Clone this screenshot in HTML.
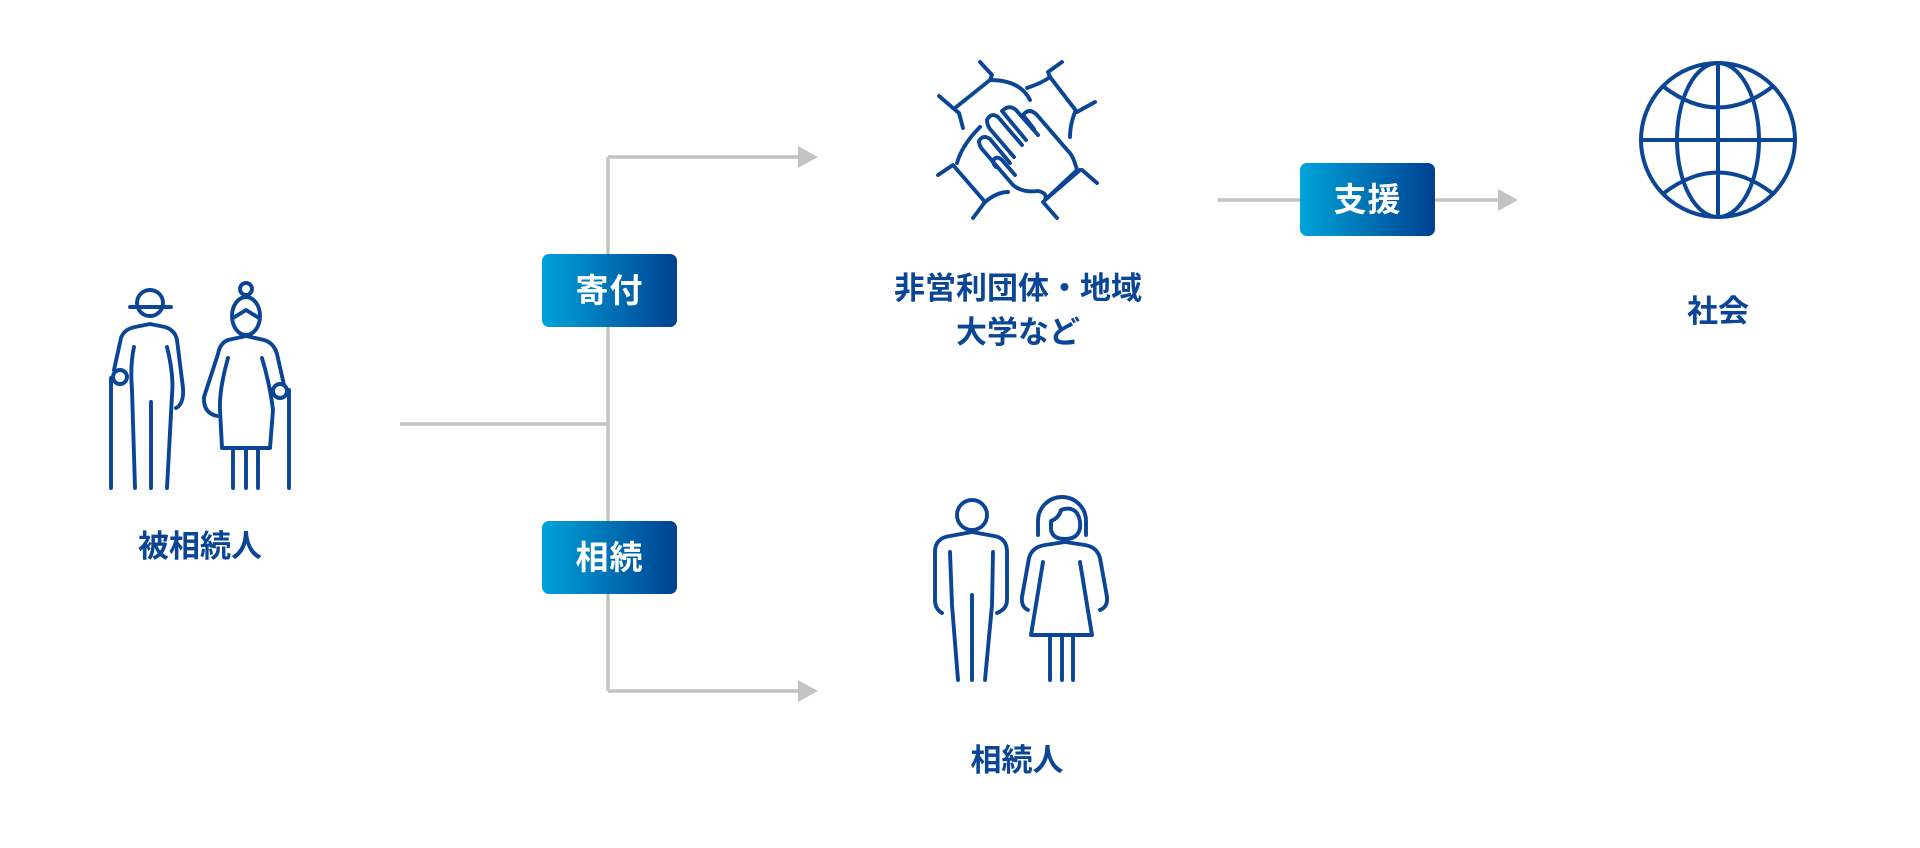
<!DOCTYPE html>
<html><head><meta charset="utf-8">
<style>
html,body{margin:0;padding:0;background:#fff;}
body{width:1920px;height:848px;position:relative;overflow:hidden;font-family:"Liberation Sans","Noto Sans CJK JP",sans-serif;}
.lbl{position:absolute;color:#0b4596;font-weight:bold;font-size:31px;line-height:44px;text-align:center;white-space:nowrap;transform:translate(-50%,-50%);}
.box{position:absolute;width:135px;height:73px;border-radius:7px;background:linear-gradient(90deg,#00a3da,#004190);color:#fff;font-weight:bold;font-size:33px;line-height:73px;text-align:center;letter-spacing:1px;}
svg{position:absolute;left:0;top:0;}
</style></head><body>
<svg width="1920" height="848" viewBox="0 0 1920 848">
<g stroke="#c3c3c3" stroke-width="3.5" fill="none">
<path d="M400 424 H608 M608 157 V691 M608 157 H800 M608 691 H800 M1218 200 H1500"/>
</g>
<g fill="#c3c3c3">
<path d="M798 146 L818 157 L798 168Z M798 680 L818 691 L798 702Z M1498 189 L1518 200 L1498 211Z"/>
</g>
<g stroke="#0b4596" stroke-width="3.9" fill="none" stroke-linecap="round" stroke-linejoin="round">
<g transform="translate(100,270)">
<circle cx="50" cy="33" r="13"/>
<path d="M30 37 H71"/>
<path d="M14 100 L21 68 Q24 59 35 57 L50 54 L65 57 Q75 60 77 70 L83 118 Q84 134 76 138"/>
<path d="M11 108 V218"/>
<circle cx="20" cy="107" r="7"/>
<path d="M34 77 Q30 95 32 120 L35 218"/>
<path d="M67 77 Q74 105 72 125 L67 218"/>
<path d="M51 132 V218"/>
<circle cx="146" cy="19" r="6"/>
<ellipse cx="146" cy="46" rx="14" ry="19"/>
<path d="M133 48 L146 40 L159 48"/>
<path d="M128 70 L146 66 L164 70 Q174 73 177 84 L184 115"/>
<path d="M128 70 Q120 73 118 84 L104 127 Q103 143 117 146"/>
<path d="M189 120 V218"/>
<circle cx="180" cy="121" r="7"/>
<path d="M128 88 Q119 120 120 140 L122 178 H170 L173 140 Q170 115 162 88"/>
<path d="M133 178 V218 M146 178 V218 M158 178 V218"/>
</g>
<g transform="translate(930,55)">
<path d="M50 7 L62 20 L60 25 M9 41 L23 53 L29 58 L33 73 M60 25 L25 53 M60 25 Q90 25 100 45"/>
<path d="M118 17 L132 7 M118 17 L120 22 L147 57 L165 47 M97 33 Q112 28 120 22 M145 57 Q140 70 140 82"/>
<path d="M113 147 L127 163 M152 115 L167 128 M115 145 L150 115"/>
<path d="M8 120 L23 110 L55 147 L43 163 M27 108 Q32 90 50 72 M55 147 Q67 137 78 137"/>
<path d="M147 115 Q143 100 138 96 L107 60 Q99 52 93 60 L104 74"/>
<path d="M108 80 L86 55 Q79 49 72 56 L96 85"/>
<path d="M92 90 L68 62 Q61 57 57 65 Q57 70 60 74 L84 102"/>
<path d="M80 108 L60 84 Q53 79 49 86 Q49 90 52 94"/>
<path d="M52 94 L83 130 Q92 138 108 136 Q118 138 115 145 M147 115 L115 145"/>
<path d="M85 120 L72 105 Q66 100 63 106 Q63 109 66 112"/>
</g>
<g transform="translate(925,485)">
<circle cx="47" cy="30" r="15"/>
<path d="M17 128 Q10 124 10 115 L10 67 Q10 53 25 51 L47 47 L69 51 Q82 53 82 67 L82 115 Q82 124 72 128"/>
<path d="M25 67 L27 120 L33 195 M68 67 L67 120 L60 195 M47 110 V195"/>
<path d="M113 50 V36 A24 24 0 0 1 161 36 V50"/>
<path d="M126 36 Q134 33 136 25 Q146 21 152 28 Q156 35 155 43 Q153 54 140 54 Q127 54 126 44 Z"/>
<path d="M103 125 Q96 122 97 112 L104 73 Q107 62 120 60 L140 57 L160 60 Q172 62 175 73 L182 112 Q183 122 175 125"/>
<path d="M118 77 L106 150 H167 L155 77"/>
<path d="M125 150 V195 M137 150 V195 M148 150 V195"/>
</g>
<g stroke-width="4">
<circle cx="1718" cy="140" r="77"/>
<ellipse cx="1718" cy="140" rx="41" ry="77"/>
<path d="M1718 63 V217 M1641 140 H1795"/>
<path d="M1664 87 Q1718 128 1772 87 M1664 193 Q1718 152 1772 193"/>
</g>
</g>
</svg>
<div class="box" style="left:542px;top:254px;">寄付</div>
<div class="box" style="left:542px;top:521px;">相続</div>
<div class="box" style="left:1300px;top:163px;">支援</div>
<div class="lbl" style="left:200px;top:547px;">被相続人</div>
<div class="lbl" style="left:1018px;top:311px;">非営利団体・地域<br>大学など</div>
<div class="lbl" style="left:1718px;top:312px;">社会</div>
<div class="lbl" style="left:1017px;top:761px;">相続人</div>
</body></html>
